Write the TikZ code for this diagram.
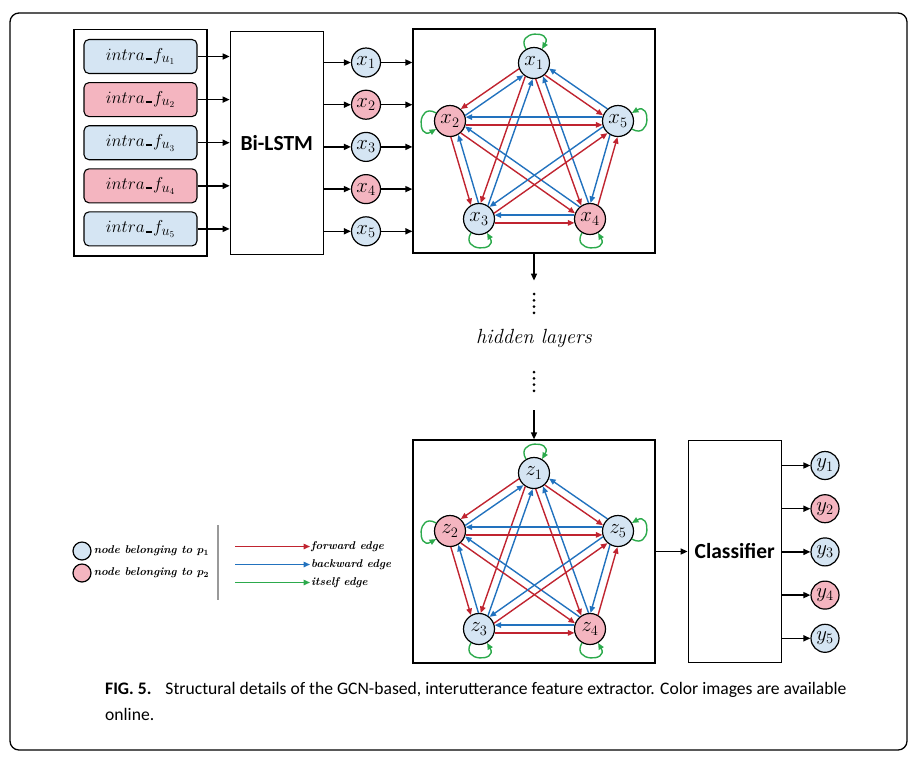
\documentclass[tikz,border=0pt]{standalone}
\usepackage{amsmath,bm}
\usepackage{fontspec}
\setsansfont{Carlito}
\usepackage{xcolor}
\usepackage{tikz}
\usetikzlibrary{arrows.meta,positioning,calc,fit}
\definecolor{nodeblue}{RGB}{213,229,243}
\definecolor{nodepink}{RGB}{244,181,192}
\definecolor{edgered}{RGB}{192,36,48}
\definecolor{edgeblue}{RGB}{34,114,190}
\definecolor{edgegreen}{RGB}{44,170,76}
\newcommand{\intraf}[1]{$intra\mkern1mu\rule{6.5pt}{2pt}\mkern1mu f_{u_{#1}}$}

\begin{document}
\begin{tikzpicture}[
  x=1pt, y=-1pt,
  every node/.style={font=\fontsize{16}{19}\selectfont},
  frame/.style={draw, line width=1.2pt},
  inbox/.style={draw, rounded corners=5pt, line width=1.1pt,
                minimum width=113pt, minimum height=34pt,
                font=\fontsize{19}{22}\selectfont},
  block/.style={draw, line width=1.2pt, minimum width=93pt,
                minimum height=223pt,
                font=\sffamily\bfseries\fontsize{21.5}{25}\selectfont},
  vnode/.style={circle, draw, line width=1.2pt, minimum size=29pt,
                inner sep=0pt, font=\fontsize{20}{22}\selectfont},
  gnode/.style={vnode, minimum size=31pt, font=\fontsize{21}{23}\selectfont},
  pone/.style={fill=nodeblue},
  ptwo/.style={fill=nodepink},
  legtext/.style={inner sep=1pt, font=\bfseries\itshape\fontsize{11.3}{13}\selectfont},
  arr/.style={-{Triangle[length=7pt,width=6pt]}, line width=1.5pt},
  fwd/.style={-{Triangle[length=6.5pt,width=5.5pt]}, line width=1.4pt, draw=edgered},
  bwd/.style={-{Triangle[length=6.5pt,width=5.5pt]}, line width=1.4pt, draw=edgeblue},
  self/.style={-{Triangle[length=6.5pt,width=5.5pt]}, line width=1.4pt, draw=edgegreen}
]
  \useasboundingbox (0,0) rectangle (917,761);
  \draw[line width=1.3pt, rounded corners=9pt] (10,13) rectangle (907,750);

  % inputs
  \node[inbox, pone] (in1) at (140.5,56.5) {\intraf{1}};
  \node[inbox, ptwo, below=8pt of in1] (in2) {\intraf{2}};
  \node[inbox, pone, below=8pt of in2] (in3) {\intraf{3}};
  \node[inbox, ptwo, below=8pt of in3] (in4) {\intraf{4}};
  \node[inbox, pone, below=8pt of in4] (in5) {\intraf{5}};
  \node[frame, fit=(in1)(in5), inner sep=9.5pt] (inp) {};
  \node[block, right=22pt of inp] (lstm) {Bi-LSTM};

  \node[vnode, pone] (x1) at (366,62.5) {$x_1$};
  \node[vnode, ptwo, below=12pt of x1] (x2) {$x_2$};
  \node[vnode, pone, below=12pt of x2] (x3) {$x_3$};
  \node[vnode, ptwo, below=12pt of x3] (x4) {$x_4$};
  \node[vnode, pone, below=12pt of x4] (x5) {$x_5$};

  % first graph layer
  \node[frame, minimum width=242pt, minimum height=224pt] (g1) at (534,141) {};
  \node[gnode, pone] (x1g) at (534,63) {$x_1$};
  \node[gnode, ptwo] (x2g) at (450,121) {$x_2$};
  \node[gnode, pone] (x3g) at (479,219) {$x_3$};
  \node[gnode, ptwo] (x4g) at (590,219) {$x_4$};
  \node[gnode, pone] (x5g) at (618,121) {$x_5$};

  \foreach \k in {1,...,5}{
    \draw[arr] (in\k.east) -- (in\k -| lstm.west);
    \draw[arr] (x\k -| lstm.east) -- (x\k.west);
    \draw[arr] (x\k.east) -- (x\k -| g1.west);
  }

  % hidden layers
  \coordinate[below=27pt of g1.south] (h1);
  \node[font=\itshape\fontsize{20.5}{22}\selectfont] (hid) at (534,338) {hidden layers};
  \coordinate (h2) at (534,410);
  \foreach \k in {0,...,3}{
    \fill (534,294+6.3*\k) circle (1.5);
    \fill (534,372+6.3*\k) circle (1.5);
  }

  % last graph layer
  \node[frame, minimum width=242pt, minimum height=223pt] (g2) at (534,551.5) {};
  \node[gnode, pone] (z1g) at (534,473) {$z_1$};
  \node[gnode, ptwo] (z2g) at (450,531) {$z_2$};
  \node[gnode, pone] (z3g) at (479,629) {$z_3$};
  \node[gnode, ptwo] (z4g) at (590,629) {$z_4$};
  \node[gnode, pone] (z5g) at (618,531) {$z_5$};
  \draw[arr] (g1.south) -- (h1);
  \draw[arr] (h2) -- (g2.north);

  \foreach \g in {x,z}{
    \foreach \a/\b in {1/2,1/3,1/4,1/5,2/3,2/4,2/5,3/4,3/5,4/5}{
      \draw[fwd] let \p1=($(\g\b g)-(\g\a g)$), \n1={atan2(\y1,\x1)},
        \n2={\n1-14}, \n3={\n1+194} in (\g\a g.\n2) -- (\g\b g.\n3);
      \draw[bwd] let \p1=($(\g\b g)-(\g\a g)$), \n1={atan2(\y1,\x1)},
        \n2={\n1+166}, \n3={\n1+14} in (\g\b g.\n2) -- (\g\a g.\n3);
    }
    \draw[self] (\g1g.120) to[out=120,in=60,looseness=3.5] (\g1g.60);
    \draw[self] (\g2g.150) to[out=150,in=210,looseness=3.5] (\g2g.210);
    \draw[self] (\g5g.-30) to[out=-30,in=30,looseness=3.5] (\g5g.30);
    \draw[self] (\g3g.240) to[out=240,in=300,looseness=3.5] (\g3g.300);
    \draw[self] (\g4g.240) to[out=240,in=300,looseness=3.5] (\g4g.300);
  }

  % classifier
  \node[block, right=32pt of g2, minimum height=222pt] (cls) {Classifier};
  \draw[arr] (g2) -- (cls);
  \node[vnode, pone, minimum size=28pt] (y1) at (825,465.5) {$y_1$};
  \node[vnode, ptwo, minimum size=28pt, below=14pt of y1] (y2) {$y_2$};
  \node[vnode, pone, minimum size=28pt, below=14pt of y2] (y3) {$y_3$};
  \node[vnode, ptwo, minimum size=28pt, below=14pt of y3] (y4) {$y_4$};
  \node[vnode, pone, minimum size=28pt, below=14pt of y4] (y5) {$y_5$};
  \foreach \k in {1,...,5}
    \draw[arr] (y\k -| cls.east) -- (y\k.west);

  % legend
  \node[vnode, pone, minimum size=18pt] (lp1) at (82,551) {};
  \node[vnode, ptwo, minimum size=18pt] (lp2) at (82,573) {};
  \node[legtext, right=1pt of lp1] (lp1t) {node belonging to $\bm{p}_{\bm{1}}$};
  \node[legtext, right=1pt of lp2] (lp2t) {node belonging to $\bm{p}_{\bm{2}}$};
  \draw[line width=1.3pt, black!40] (218,525) -- (218,600);
  \node[legtext, anchor=west] (lfw) at (310,546.5) {forward edge};
  \node[legtext, anchor=west] (lbw) at (310,564.5) {backward edge};
  \node[legtext, anchor=west] (lsf) at (310,582.5) {itself edge};
  \coordinate (lf) at (235,546.5);
  \coordinate (lb) at (235,564.5);
  \coordinate (ls) at (235,582.5);
  \draw[fwd] (lf) -- (lfw.west);
  \draw[bwd] (lb) -- (lbw.west);
  \draw[self] (ls) -- (lsf.west);

  % caption
  \node[anchor=north west, align=left, inner sep=0pt,
        font=\sffamily\fontsize{17.6}{26}\selectfont] (cap) at (105,682)
    {\textbf{FIG. 5.}\hspace{14pt}Structural details of the GCN-based, interutterance feature extractor. Color images are available\\online.};
\end{tikzpicture}
\end{document}
